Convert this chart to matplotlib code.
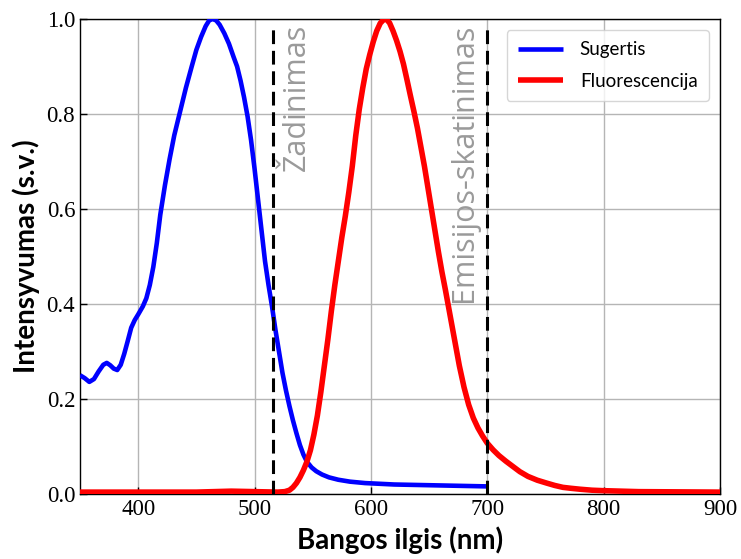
import matplotlib
matplotlib.use("Agg")
import matplotlib.pyplot as plt

# Absorption (Sugertis)
abs_x = [350, 354, 358, 362, 366, 370, 373, 376, 379, 382, 385, 388, 391, 394, 397,
         400, 404, 407, 410, 413, 416, 419, 423, 427, 431, 436, 441, 446, 450, 454,
         458, 461, 464, 467, 470, 474, 478, 482, 485, 488, 491, 494, 497, 500, 503,
         506, 509, 512, 515, 518, 521, 524, 527, 530, 533, 536, 539, 542, 545, 549,
         553, 558, 564, 572, 582, 595, 620, 660, 700]
abs_y = [0.250, 0.244, 0.236, 0.242, 0.258, 0.272, 0.276, 0.271, 0.264, 0.261, 0.272,
         0.295, 0.322, 0.350, 0.366, 0.378, 0.395, 0.412, 0.440, 0.478, 0.528, 0.588,
         0.650, 0.705, 0.755, 0.805, 0.855, 0.900, 0.935, 0.962, 0.985, 0.997, 1.000,
         0.997, 0.988, 0.970, 0.948, 0.920, 0.900, 0.870, 0.835, 0.795, 0.745, 0.685,
         0.620, 0.555, 0.490, 0.440, 0.395, 0.345, 0.300, 0.255, 0.218, 0.185, 0.155,
         0.128, 0.103, 0.083, 0.068, 0.056, 0.048, 0.041, 0.035, 0.030, 0.026, 0.023,
         0.020, 0.018, 0.016]

# Fluorescence (Fluorescencija)
fl_x = [350, 400, 450, 480, 500, 520, 526, 530, 533, 536, 539, 542, 545, 548, 551,
        554, 557, 560, 563, 566, 569, 572, 575, 578, 581, 584, 587, 590, 593, 596,
        599, 602, 605, 608, 611, 613, 616, 619, 622, 625, 628, 631, 634, 637, 640,
        643, 646, 649, 652, 655, 658, 661, 664, 667, 670, 673, 676, 680, 684, 688,
        692, 696, 700, 705, 710, 716, 722, 728, 735, 743, 751, 758, 765, 772, 780,
        790, 800, 830, 900]
fl_y = [0.004, 0.004, 0.004, 0.006, 0.005, 0.004, 0.005, 0.008, 0.014, 0.023, 0.035,
        0.050, 0.068, 0.092, 0.125, 0.165, 0.215, 0.270, 0.325, 0.385, 0.440, 0.490,
        0.540, 0.585, 0.635, 0.690, 0.755, 0.810, 0.855, 0.895, 0.925, 0.952, 0.975,
        0.991, 0.999, 1.000, 0.992, 0.975, 0.955, 0.932, 0.905, 0.872, 0.838, 0.805,
        0.770, 0.730, 0.690, 0.645, 0.600, 0.555, 0.510, 0.468, 0.430, 0.390, 0.350,
        0.310, 0.270, 0.225, 0.188, 0.160, 0.139, 0.122, 0.107, 0.093, 0.081, 0.069,
        0.058, 0.047, 0.037, 0.029, 0.023, 0.018, 0.014, 0.012, 0.010, 0.008, 0.007,
        0.005, 0.004]

vlines_x = [516, 700]
vline_labels = ["Žadinimas", "Emisijos-skatinimas"]
label_x = [536, 680]

x_ticks = [400, 500, 600, 700, 800, 900]
y_ticks = [0.0, 0.2, 0.4, 0.6, 0.8, 1.0]

fig = plt.figure(figsize=(7.41, 5.59), dpi=100)
ax = fig.add_axes([80/741, 1 - 494/559, 640/741, 475/559])

ax.grid(True, color="#b5b5b5", linewidth=1.0)
ax.set_axisbelow(True)

ax.plot(abs_x, abs_y, color="#0000ff", lw=3.3, label="Sugertis", zorder=3,
        solid_joinstyle="round", solid_capstyle="butt")
ax.plot(fl_x, fl_y, color="#ff0000", lw=4.0, label="Fluorescencija", zorder=3,
        solid_joinstyle="round", solid_capstyle="butt")

for xv in vlines_x:
    ax.plot([xv, xv], [0, 0.988], color="black", lw=2.2, ls=(0, (4.5, 2.2)), zorder=4)

for xv, txt in zip(label_x, vline_labels):
    ax.text(xv, 0.99, txt, rotation=90, ha="center", va="top", color="#9a9a9a",
            fontsize=22, family="Open Sans", fontweight="normal")

ax.set_xlim(350, 900)
ax.set_ylim(0, 1.0)
ax.set_xticks(x_ticks)
ax.set_yticks(y_ticks)
ax.set_yticklabels([f"{v:.1f}" for v in y_ticks])
ax.tick_params(direction="in", length=5, labelsize=16.5, width=1)
for lab in ax.get_xticklabels() + ax.get_yticklabels():
    lab.set_family("Liberation Serif")

ax.set_xlabel("Bangos ilgis (nm)", fontsize=20, fontweight="bold", family="Lato", labelpad=5)
ax.set_ylabel("Intensyvumas (s.v.)", fontsize=20, fontweight="bold", family="Lato", labelpad=5)

leg = ax.legend(loc="upper right", prop={"family": "Lato", "size": 13.5}, fancybox=True,
                framealpha=0.8, edgecolor="#cccccc", handlelength=2.4, borderpad=0.6,
                labelspacing=0.75, handletextpad=0.9, borderaxespad=0.6)

for s in ax.spines.values():
    s.set_linewidth(1.0)

fig.savefig("out.png", dpi=100)
